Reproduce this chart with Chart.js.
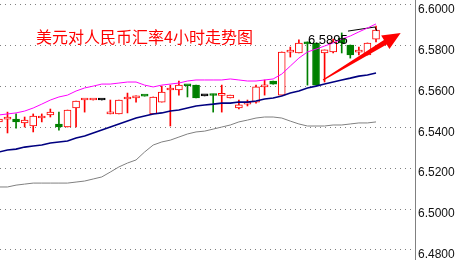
<!DOCTYPE html>
<html><head><meta charset="utf-8">
<script src="https://cdn.jsdelivr.net/npm/chart.js@4.4.0/dist/chart.umd.min.js"></script>
<style>html,body{margin:0;padding:0;background:#fff;overflow:hidden}#wrap{width:459px;height:260px;position:relative}</style>
</head><body><div id="wrap"><canvas id="c" width="459" height="260"></canvas></div>
<script>
const opens  = [6.5426,6.5440,6.5440,6.5421,6.5406,6.5445,6.5460,6.5416,6.5401,6.5494,6.5533,6.5533,6.5533,6.5465,6.5465,6.5538,6.5543,6.5553,6.5465,6.5523,6.5582,6.5582,6.5606,6.5606,6.5553,6.5556,6.5556,6.5543,6.5494,6.5513,6.5523,6.5597,6.5626,6.5557,6.5767,6.5763,6.5817,6.5812,6.5763,6.5768,6.5836,6.5802,6.5767,6.5753,6.5831];
const highs  = [6.5445,6.5474,6.5465,6.5450,6.5465,6.5465,6.5489,6.5474,6.5484,6.5528,6.5534,6.5534,6.5533,6.5533,6.5533,6.5567,6.5553,6.5553,6.5548,6.5601,6.5606,6.5626,6.5606,6.5606,6.5553,6.5562,6.5606,6.5557,6.5533,6.5533,6.5606,6.5631,6.5626,6.5768,6.5792,6.5827,6.5817,6.5812,6.5778,6.5831,6.5861,6.5802,6.5792,6.5812,6.5895];
const lows   = [6.5416,6.5372,6.5396,6.5401,6.5377,6.5426,6.5450,6.5386,6.5401,6.5401,6.5474,6.5533,6.5533,6.5465,6.5465,6.5470,6.5523,6.5552,6.5465,6.5523,6.5406,6.5557,6.5548,6.5543,6.5553,6.5474,6.5474,6.5543,6.5489,6.5504,6.5518,6.5557,6.5611,6.5557,6.5743,6.5763,6.5606,6.5606,6.5621,6.5763,6.5763,6.5738,6.5753,6.5753,6.5817];
const closes = [6.5440,6.5450,6.5426,6.5435,6.5455,6.5446,6.5474,6.5401,6.5484,6.5528,6.5534,6.5534,6.5533,6.5467,6.5533,6.5548,6.5553,6.5552,6.5548,6.5572,6.5584,6.5606,6.5603,6.5543,6.5553,6.5555,6.5558,6.5557,6.5509,6.5518,6.5597,6.5606,6.5611,6.5768,6.5769,6.5812,6.5807,6.5606,6.5778,6.5817,6.5812,6.5753,6.5769,6.5812,6.5875];
const upperBand  = [6.5460,6.5465,6.5470,6.5479,6.5494,6.5513,6.5533,6.5548,6.5557,6.5577,6.5592,6.5601,6.5611,6.5611,6.5616,6.5621,6.5621,6.5606,6.5597,6.5606,6.5611,6.5616,6.5626,6.5631,6.5631,6.5631,6.5631,6.5636,6.5631,6.5626,6.5626,6.5631,6.5636,6.5660,6.5699,6.5738,6.5768,6.5782,6.5797,6.5812,6.5831,6.5846,6.5866,6.5885,6.5905];
const middleBand = [6.5279,6.5289,6.5293,6.5303,6.5308,6.5313,6.5323,6.5328,6.5333,6.5347,6.5357,6.5372,6.5386,6.5401,6.5416,6.5430,6.5445,6.5455,6.5465,6.5470,6.5479,6.5484,6.5494,6.5504,6.5509,6.5513,6.5518,6.5518,6.5523,6.5523,6.5528,6.5538,6.5543,6.5553,6.5567,6.5577,6.5592,6.5601,6.5611,6.5621,6.5631,6.5640,6.5650,6.5655,6.5665];
const lowerBand  = [6.5108,6.5108,6.5117,6.5122,6.5127,6.5127,6.5127,6.5127,6.5127,6.5132,6.5137,6.5147,6.5157,6.5181,6.5206,6.5225,6.5240,6.5279,6.5313,6.5328,6.5337,6.5352,6.5367,6.5377,6.5381,6.5391,6.5401,6.5411,6.5426,6.5435,6.5445,6.5450,6.5450,6.5445,6.5430,6.5416,6.5406,6.5406,6.5406,6.5411,6.5411,6.5416,6.5421,6.5421,6.5426];
const trendX = [40.73, 43.88, 44.12];
const trendY = [6.5870, 6.5890, 6.5870];
const yTicks = [6.48, 6.50, 6.52, 6.54, 6.56, 6.58, 6.60];
const titleText = '美元对人民币汇率4小时走势图';
const priceLabel = '6.5895';
const priceLabelPos = {x: 36.05, y: 6.5826};
const arrowTail = {x: 37.82, y: 6.5631};
const arrowTip = {x: 46.88, y: 6.5861};

const RED = '#ff0000', GREEN = '#008000', BLACK = '#000000';
const idx = opens.map((_, i) => i);
const dirColor = i => closes[i] > opens[i] ? RED : (closes[i] < opens[i] ? GREEN : BLACK);
const bodyFill = i => closes[i] > opens[i] ? '#ffffff' : dirColor(i);

const overlay = {
  id: 'overlay',
  afterDatasetsDraw(chart) {
    const ctx = chart.ctx, xs = chart.scales.x, ys = chart.scales.y;
    ctx.save();
    // title
    ctx.fillStyle = RED;
    ctx.font = '16px "Noto Sans CJK SC"';
    ctx.textBaseline = 'middle';
    ctx.textAlign = 'left';
    ctx.fillText(titleText, 36, 37);
    // price label
    ctx.fillStyle = '#000';
    ctx.font = '13px "Liberation Sans", Arial';
    ctx.fillText(priceLabel, xs.getPixelForValue(priceLabelPos.x), ys.getPixelForValue(priceLabelPos.y));
    // arrow
    const tx = xs.getPixelForValue(arrowTail.x), ty = ys.getPixelForValue(arrowTail.y);
    const px = xs.getPixelForValue(arrowTip.x), py = ys.getPixelForValue(arrowTip.y);
    const dx = px - tx, dy = py - ty, L = Math.hypot(dx, dy);
    const ux = dx / L, uy = dy / L, nx = -uy, ny = ux;
    const hl = 18, hw = 8, sw0 = 0.7, sw1 = 2.6;
    const bx = px - ux * hl, by = py - uy * hl;
    ctx.fillStyle = RED;
    ctx.beginPath();
    ctx.moveTo(tx + nx * sw0, ty + ny * sw0);
    ctx.lineTo(bx + nx * sw1, by + ny * sw1);
    ctx.lineTo(bx + nx * hw, by + ny * hw);
    ctx.lineTo(px, py);
    ctx.lineTo(bx - nx * hw, by - ny * hw);
    ctx.lineTo(bx - nx * sw1, by - ny * sw1);
    ctx.lineTo(tx - nx * sw0, ty - ny * sw0);
    ctx.closePath();
    ctx.fill();
    ctx.restore();
  }
};

const lineDs = (label, arr, color, width) => ({
  type: 'line', label, data: idx.map(i => ({x: i, y: arr[i]})),
  borderColor: color, borderWidth: width, pointRadius: 0, tension: 0, fill: false, order: 0
});

new Chart(document.getElementById('c'), {
  type: 'bar',
  data: {
    datasets: [
      {
        label: 'wick', order: 3, grouped: false, barThickness: 1,
        data: idx.map(i => ({x: i, y: [lows[i], highs[i]]})),
        backgroundColor: idx.map(dirColor), borderWidth: 0
      },
      {
        label: 'body', order: 2, grouped: false, barThickness: 7, minBarLength: 2,
        data: idx.map(i => ({x: i, y: [Math.min(opens[i], closes[i]), Math.max(opens[i], closes[i])]})),
        backgroundColor: idx.map(bodyFill), borderColor: idx.map(dirColor), borderWidth: 1, borderSkipped: false
      },
      lineDs('upper', upperBand, '#ff00ff', 1),
      lineDs('middle', middleBand, '#000080', 1.6),
      lineDs('lower', lowerBand, '#808080', 1),
      {
        type: 'line', label: 'trend', data: trendX.map((x, i) => ({x, y: trendY[i]})),
        borderColor: '#000', borderWidth: 1, pointRadius: 0, tension: 0, fill: false, order: 0
      }
    ]
  },
  options: {
    responsive: false, animation: false, devicePixelRatio: 1,
    layout: {padding: 0},
    plugins: {legend: {display: false}, tooltip: {enabled: false}, title: {display: false}},
    scales: {
      x: {type: 'linear', min: 0.125, max: 48.55, display: false, offset: false, grid: {display: false}},
      y: {
        position: 'right', min: 6.4751, max: 6.6022,
        afterBuildTicks: s => { s.ticks = yTicks.map(v => ({value: v})); },
        afterFit: s => { s.width = 44; s.paddingTop = 0; s.paddingBottom = 0; },
        ticks: {callback: v => Number(v).toFixed(4), padding: 3, labelOffset: 5,
                font: {family: '"Liberation Sans", Arial', size: 12}, color: '#111'},
        grid: {color: '#808080', drawTicks: false, lineWidth: 1},
        border: {display: true, color: '#808080', width: 1, dash: [1, 4]}
      }
    }
  },
  plugins: [overlay]
});
</script></body></html>
